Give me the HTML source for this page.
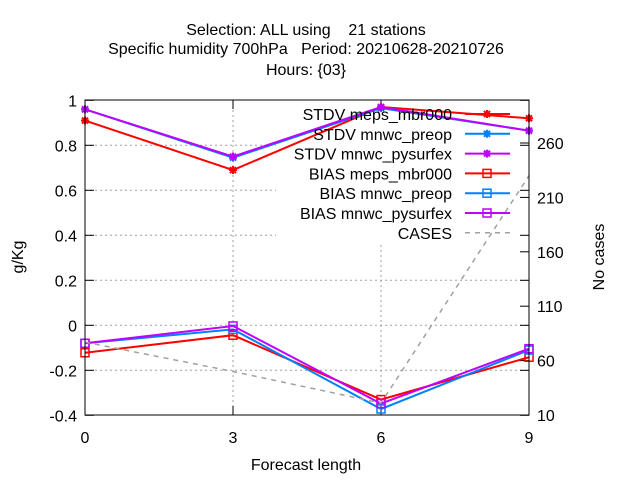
<!DOCTYPE html>
<html><head><meta charset="utf-8"><style>body{margin:0;background:#fff}svg text{font-family:"Liberation Sans",sans-serif;font-size:16px}</style></head>
<body>
<svg width="640" height="480" xmlns="http://www.w3.org/2000/svg">
<g id="titles" text-anchor="middle">
<text x="306" y="35">Selection: ALL using &#160;&#160; 21 stations</text>
<text x="306" y="54">Specific humidity 700hPa &#160; Period: 20210628-20210726</text>
<text x="306" y="75">Hours: {03}</text>
<text x="306" y="470">Forecast length</text>
<text transform="translate(23,257) rotate(-90)">g/Kg</text>
<text transform="translate(604,257) rotate(-90)">No cases</text>
</g>
<g id="grid"></g>
<rect x="276" y="101" width="252" height="141" fill="#fff"/>
<g id="axes"></g>
<g id="series"></g>
<g id="legend"></g>
<rect x="85" y="100" width="444" height="315" fill="none" stroke="#000"/>
</svg>
<script>
const xCats=[0,3,6,9];
const yTicks=[1,0.8,0.6,0.4,0.2,0,-0.2,-0.4];
const yTickLabels=["1","0.8","0.6","0.4","0.2","0","-0.2","-0.4"];
const y2Ticks=[260,210,160,110,60,10];
const stdvMeps=[0.91,0.69,0.97,0.92];
const stdvPreop=[0.96,0.745,0.965,0.865];
const stdvPysurfex=[0.96,0.75,0.97,0.865];
const biasMeps=[-0.122,-0.044,-0.33,-0.142];
const biasPreop=[-0.08,-0.018,-0.372,-0.11];
const biasPysurfex=[-0.08,-0.003,-0.348,-0.104];
const cases=[77,50,21,230];

const NS="http://www.w3.org/2000/svg";
const X=v=>85+(v/9)*444;
const Y=v=>325.3-v*225;
const Y2=v=>415-(v-10)*1.088;
function mk(t,a,p){const e=document.createElementNS(NS,t);for(const k in a)e.setAttribute(k,a[k]);p.appendChild(e);return e;}
const grid=document.getElementById('grid'),axes=document.getElementById('axes'),series=document.getElementById('series'),legend=document.getElementById('legend');
yTicks.forEach((v,i)=>{
 const y=Y(v);
 if(i>0&&i<yTicks.length-1){const g=mk('line',{x1:85,x2:529,y1:y,y2:y,stroke:'#a0a0a0','stroke-dasharray':'2,3'},grid);}
 mk('line',{x1:85,x2:94,y1:y,y2:y,stroke:'#000'},axes);
 mk('line',{x1:520,x2:529,y1:y,y2:y,stroke:'#000'},axes);
 const t=mk('text',{x:77,y:y+6,'text-anchor':'end'},axes);t.textContent=yTickLabels[i];
 
});
y2Ticks.forEach(v=>{const y=Y2(v);mk('line',{x1:520,x2:529,y1:y,y2:y,stroke:'#000'},axes);
 const t=mk('text',{x:537,y:y+6},axes);t.textContent=v;
 });
xCats.forEach((v,i)=>{const x=X(v);
 if(i>0&&i<xCats.length-1){const g=mk('line',{x1:x,x2:x,y1:100,y2:415,stroke:'#a0a0a0','stroke-dasharray':'2,3'},grid);}
 mk('line',{x1:x,x2:x,y1:406,y2:415,stroke:'#000'},axes);mk('line',{x1:x,x2:x,y1:100,y2:109,stroke:'#000'},axes);
 const t=mk('text',{x:x,y:443,'text-anchor':'middle'},axes);t.textContent=v;
 });
function star(g,x,y,c){mk('path',{d:`M${x-4} ${y}h8M${x} ${y-4}v8M${x-3} ${y-3}l6 6M${x-3} ${y+3}l6 -6`,stroke:c,'stroke-width':2,fill:'none'},g);}
function sq(g,x,y,c){mk('rect',{x:x-4,y:y-4,width:8,height:8,stroke:c,'stroke-width':1.5,fill:'none'},g);}
const defs=[
 ['STDV meps_mbr000',stdvMeps,'#ff0000',star,Y,'stdv-meps'],
 ['STDV mnwc_preop',stdvPreop,'#0080ff',star,Y,'stdv-preop'],
 ['STDV mnwc_pysurfex',stdvPysurfex,'#c000ff',star,Y,'stdv-pysurfex'],
 ['BIAS meps_mbr000',biasMeps,'#ff0000',sq,Y,'bias-meps'],
 ['BIAS mnwc_preop',biasPreop,'#0080ff',sq,Y,'bias-preop'],
 ['BIAS mnwc_pysurfex',biasPysurfex,'#c000ff',sq,Y,'bias-pysurfex'],
 ['CASES',cases,'#a0a0a0',null,Y2,'cases']];
defs.forEach((d,i)=>{
 const g=mk('g',{},series);
 
 
 const pts=d[1].map((v,j)=>X(xCats[j])+','+d[4](v)).join(' ');
 mk('polyline',{points:pts,fill:'none',stroke:d[2],'stroke-width':d[3]?2:1.5,'stroke-dasharray':d[3]?'none':'5,5'},g);
 if(d[3])d[1].forEach((v,j)=>d[3](g,X(xCats[j]),d[4](v),d[2]));
 const ly=114+i*19.8;
 const lg=mk('g',{},legend);
 
 
 const t=mk('text',{x:452,y:ly+6,'text-anchor':'end'},lg);t.textContent=d[0];
 mk('line',{x1:465,x2:510,y1:ly,y2:ly,stroke:d[2],'stroke-width':d[3]?2:1.5,'stroke-dasharray':d[3]?'none':'5,5'},lg);
 if(d[3])d[3](lg,487,ly,d[2]);
});
</script>
</body></html>
